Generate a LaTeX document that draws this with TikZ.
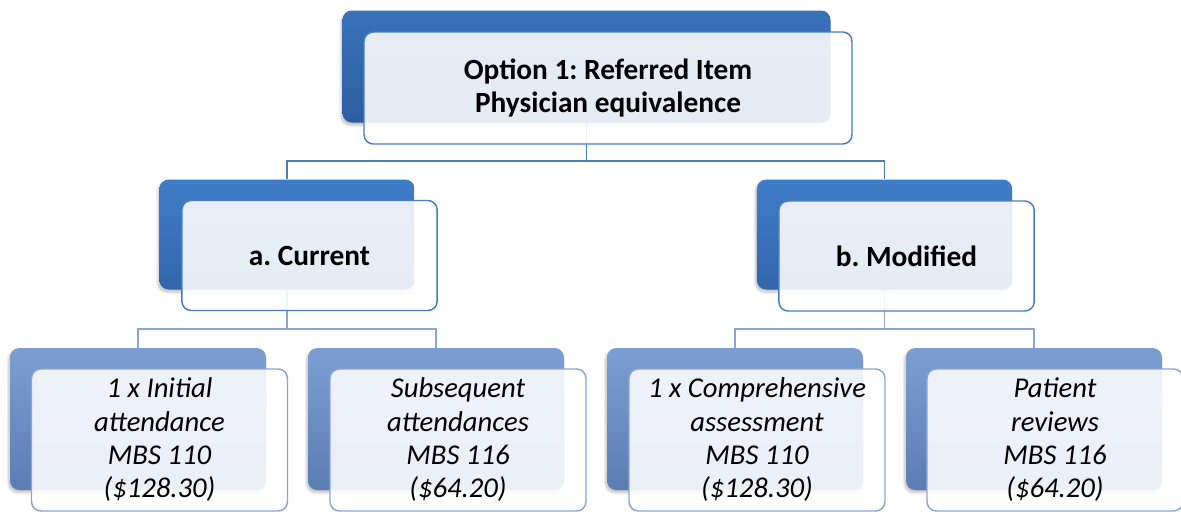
\documentclass[tikz,border=0pt]{standalone}
\usepackage{fontspec}
\setmainfont{Carlito}
\usetikzlibrary{shadows.blur}
\frenchspacing

\definecolor{toplead}{RGB}{56,114,185}
\definecolor{topdark}{RGB}{44,94,160}
\definecolor{midlead}{RGB}{64,125,200}
\definecolor{middark}{RGB}{50,102,172}
\definecolor{lowlead}{RGB}{125,158,210}
\definecolor{lowdark}{RGB}{92,124,180}
\definecolor{edgeblue}{RGB}{74,124,192}
\definecolor{edgelight}{RGB}{138,166,214}

\tikzset{
  backbox/.style={rounded corners=7pt, inner sep=0pt,
    blur shadow={shadow xshift=-1pt, shadow yshift=-2pt, shadow opacity=25, shadow blur steps=6}},
  frontbox/.style={rounded corners=7pt, draw=edgeblue, line width=1.1pt,
    fill=white, fill opacity=0.88, text opacity=1, align=center, inner sep=2pt},
  headbox/.style={minimum width=366pt, minimum height=84pt},
  groupbox/.style={minimum width=191.5pt, minimum height=82.5pt},
  itembox/.style={minimum width=192pt, minimum height=106.5pt},
  headtext/.style={font=\fontsize{22}{25}\selectfont\bfseries},
  itemtext/.style={font=\fontsize{21.5}{25}\selectfont\itshape},
  busline/.style={draw=edgeblue, line width=1.4pt},
  subline/.style={draw=edgelight, line width=1.1pt}
}

\begin{document}
\begin{tikzpicture}[x=0.75pt,y=0.75pt,yscale=-1,xscale=1]
      \useasboundingbox (0,0) rectangle (1181,511);
      % back plates
      \node [backbox, headbox, top color=toplead, bottom color=topdark] (optback) at (586.5,66.5) {};
      \node [backbox, groupbox, top color=midlead, bottom color=middark] (curback) at (287,234.5) {};
      \node [backbox, groupbox, top color=midlead, bottom color=middark] (modback) at (884.5,234.5) {};
      \node [backbox, itembox, top color=lowlead, bottom color=lowdark] (initback) at (138,419) {};
      \node [backbox, itembox, top color=lowlead, bottom color=lowdark] (subsback) at (436,419) {};
      \node [backbox, itembox, top color=lowlead, bottom color=lowdark] (compback) at (735,419) {};
      \node [backbox, itembox, top color=lowlead, bottom color=lowdark] (revback) at (1034,419) {};
      % connectors
      \coordinate (bustop) at (586.5,161);
      \coordinate (busleft) at (287,329);
      \coordinate (busright) at (884.5,329);
      \draw [busline] (optback.south) -- (bustop);
      \draw [busline] (curback.north) |- (bustop) -| (modback.north);
      \draw [subline] (curback.south) -- (busleft);
      \draw [subline] (initback.north) |- (busleft) -| (subsback.north);
      \draw [subline] (modback.south) -- (busright);
      \draw [subline] (compback.north) |- (busright) -| (revback.north);
      % front cards
      \node [frontbox, headbox, headtext] (opt) at (608,88) {Option 1: Referred Item\\Physician equivalence};
      \node [frontbox, groupbox, headtext] (cur) at (309.5,255.5) {a. Current};
      \node [frontbox, groupbox, headtext] (mod) at (906.5,256) {b. Modified};
      \node [frontbox, itembox, itemtext, draw=edgelight] (init) at (159.5,440) {1 x Initial\\attendance\\MBS 110\\(\$128.30)};
      \node [frontbox, itembox, itemtext, draw=edgelight] (subs) at (458,440) {Subsequent\\attendances\\MBS 116\\(\$64.20)};
      \node [frontbox, itembox, itemtext, draw=edgelight] (comp) at (757,440) {1 x Comprehensive\\assessment\\MBS 110\\(\$128.30)};
      \node [frontbox, itembox, itemtext, draw=edgelight] (rev) at (1055,440) {Patient\\reviews\\MBS 116\\(\$64.20)};
\end{tikzpicture}
\end{document}
